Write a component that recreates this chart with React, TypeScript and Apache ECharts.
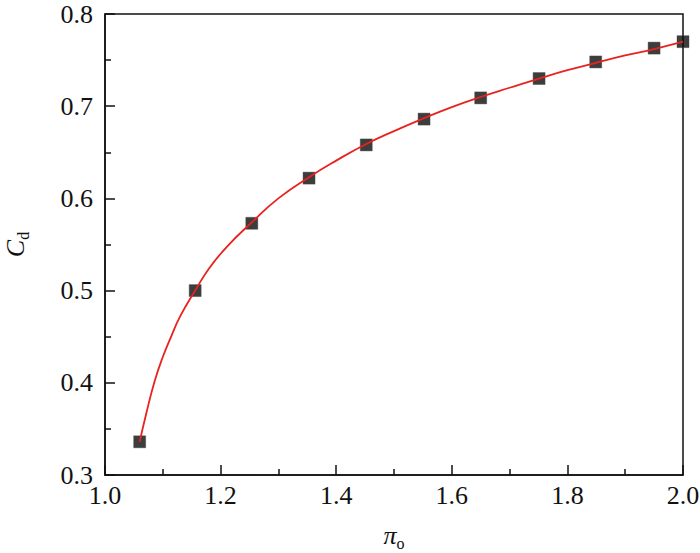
import React, { useEffect, useRef } from "react";
import * as echarts from "echarts";

const piO = [1.06, 1.156, 1.254, 1.353, 1.452, 1.552, 1.65, 1.751, 1.849, 1.95, 2.0];
const cd = [0.336, 0.5, 0.573, 0.622, 0.658, 0.686, 0.709, 0.73, 0.748, 0.763, 0.77];

const fitX = [1.06, 1.0715, 1.086, 1.1, 1.115, 1.13, 1.156, 1.18, 1.21, 1.254, 1.3, 1.353, 1.4, 1.452, 1.5, 1.552, 1.6, 1.65, 1.7, 1.751, 1.8, 1.849, 1.9, 1.95, 2.0];
const fitY = [0.336, 0.367, 0.402, 0.428, 0.451, 0.472, 0.5, 0.524, 0.547, 0.574, 0.6, 0.623, 0.641, 0.659, 0.673, 0.687, 0.699, 0.71, 0.72, 0.73, 0.739, 0.747, 0.755, 0.762, 0.77];

const xTicks = ["1.0", "1.2", "1.4", "1.6", "1.8", "2.0"];

export default function App() {
  const ref = useRef<HTMLDivElement>(null);
  useEffect(() => {
    if (!ref.current) return;
    const chart = echarts.init(ref.current, null, { renderer: "svg" });
    const font = "Liberation Serif";
    chart.setOption({
      animation: false,
      grid: {
        left: 105,
        right: 17,
        top: 14,
        bottom: 78,
        containLabel: false,
        outerBoundsMode: "none",
        show: true,
        borderColor: "#111",
        borderWidth: 1.5,
      },
      xAxis: {
        type: "value",
        min: 1.0,
        max: 2.0,
        interval: 0.2,
        name: "{i|π}{s|o}",
        nameLocation: "middle",
        nameGap: 44,
        nameTextStyle: {
          rich: {
            i: { fontFamily: font, fontSize: 26, fontStyle: "italic", color: "#111" },
            s: { fontFamily: font, fontSize: 16, color: "#111", padding: [16, 0, 0, 0] },
          },
        },
        axisLine: { show: true, lineStyle: { color: "#111", width: 1.5 } },
        axisTick: { show: true, inside: true, length: 10, lineStyle: { color: "#111", width: 1.5 } },
        minorTick: { show: true, splitNumber: 2, length: 6, lineStyle: { color: "#111", width: 1.5 } },
        splitLine: { show: false },
        axisLabel: {
          fontFamily: font,
          fontSize: 26,
          color: "#111",
          margin: 7,
          formatter: (v: number) => {
            const s = v.toFixed(1);
            return xTicks.includes(s) ? s : "";
          },
        },
      },
      yAxis: {
        type: "value",
        min: 0.3,
        max: 0.8,
        interval: 0.1,
        name: "{i|C}{s|d}",
        nameLocation: "middle",
        nameGap: 74,
        nameRotate: 90,
        nameTextStyle: {
          rich: {
            i: { fontFamily: font, fontSize: 26, fontStyle: "italic", color: "#111" },
            s: { fontFamily: font, fontSize: 16, color: "#111", padding: [16, 0, 0, 0] },
          },
        },
        axisLine: { show: true, lineStyle: { color: "#111", width: 1.5 } },
        axisTick: { show: true, inside: true, length: 10, lineStyle: { color: "#111", width: 1.5 } },
        minorTick: { show: true, splitNumber: 2, length: 6, lineStyle: { color: "#111", width: 1.5 } },
        splitLine: { show: false },
        axisLabel: {
          fontFamily: font,
          fontSize: 26,
          color: "#111",
          margin: 12,
          formatter: (v: number) => v.toFixed(1),
        },
      },
      series: [
        {
          type: "line",
          data: fitX.map((x, i) => [x, fitY[i]]),
          smooth: 0.5,
          showSymbol: false,
          lineStyle: { color: "#e8231f", width: 1.8 },
          z: 3,
        },
        {
          type: "scatter",
          data: piO.map((x, i) => [x, cd[i]]),
          symbol: "rect",
          symbolSize: 12,
          itemStyle: { color: "#0d0d0d", borderColor: "#444", borderWidth: 0.5 },
          z: 2,
        },
      ],
    });
    return () => chart.dispose();
  }, []);
  return (
    <div
      ref={ref}
      style={{ position: "absolute", left: 0, top: 0, width: 700, height: 553 }}
    />
  );
}
